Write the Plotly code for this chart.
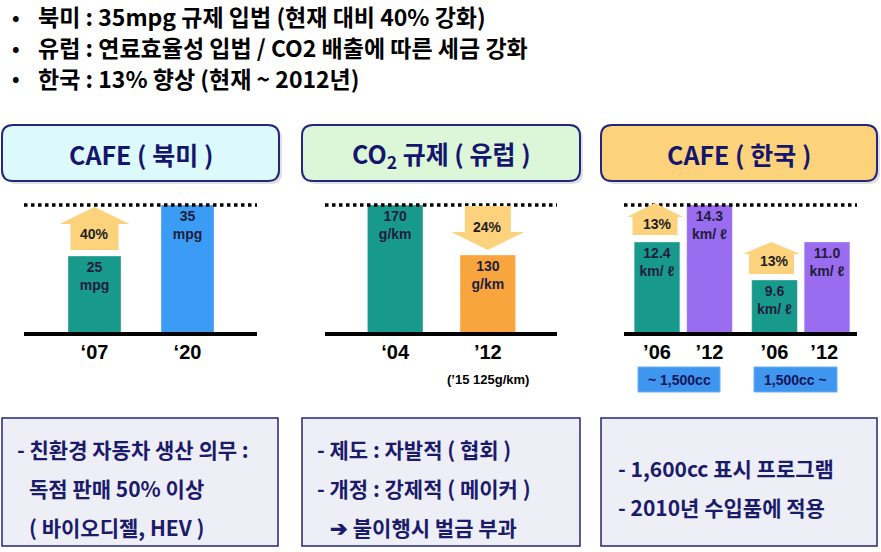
import plotly.graph_objects as go

W, H = 881, 552

def px(x):
    return x / W

def py(y):
    return 1 - y / H

# ---------------- data ----------------
bullets = [
    "북미 : 35mpg 규제 입법 (현재 대비 40% 강화)",
    "유럽 : 연료효율성 입법 / CO2 배출에 따른 세금 강화",
    "한국 : 13% 향상 (현재 ~ 2012년)",
]
panel_titles = ["CAFE ( 북미 )", "CO<sub>2</sub> 규제 ( 유럽 )", "CAFE ( 한국 )"]

na_years = ["‘07", "‘20"]
na_mpg = [25, 35]
na_unit = "mpg"

eu_years = ["‘04", "’12"]
eu_gkm = [170, 130]
eu_unit = "g/km"
eu_note = "(’15 125g/km)"

kr_small_years = ["’06", "’12"]
kr_small_kml = [12.4, 14.3]
kr_large_years = ["’06", "’12 "]
kr_large_kml = [9.6, 11.0]
kr_unit = "km/ ℓ"
kr_classes = ["~ 1,500cc", "1,500cc ~"]

change_labels = ["40%", "24%", "13%", "13%"]

notes = [
    ["- 친환경 자동차 생산 의무 :", "독점 판매 50% 이상", "( 바이오디젤, HEV )"],
    ["- 제도 : 자발적 ( 협회 )", "- 개정 : 강제적 ( 메이커 )", "➔ 불이행시 벌금 부과"],
    ["- 1,600cc 표시 프로그램", "- 2010년 수입품에 적용"],
]

# ---------------- styles ----------------
TEAL = "#17998c"
BLUE = "#3b9cf6"
ORANGE = "#f9a53e"
PURPLE = "#9a6cf0"
ARROW = "#fcd27c"
KFONT = "Noto Sans CJK KR"
AFONT = "Arial, Liberation Sans, sans-serif"

BASE_Y, TOP_Y = 333, 205
ydom = [py(BASE_Y), py(TOP_Y)]

na_dom, na_xr, na_yr = (24, 257), (-0.758, 1.747), (9.9, 35)
eu_dom, eu_xr, eu_yr = (325, 557), (-0.758, 1.747), (67.6, 170)
k1_dom, k1_xr, k1_yr = (624, 740.5), (-0.629, 1.59), (7.73, 14.3)
k2_dom, k2_xr, k2_yr = (740.5, 857), (-0.648, 1.571), (7.647, 12.36)


def xmap(dom, xr, v):
    return dom[0] + (v - xr[0]) / (xr[1] - xr[0]) * (dom[1] - dom[0])


def ymap(yr, v):
    return BASE_Y - (v - yr[0]) / (yr[1] - yr[0]) * (BASE_Y - TOP_Y)


fig = go.Figure()


def add_bars(xs, ys, colors, unit, fmt, xa, ya, width):
    fig.add_trace(go.Bar(
        x=xs, y=ys, xaxis=xa, yaxis=ya, width=width,
        marker=dict(color=colors, line=dict(color="rgba(255,255,255,0.35)", width=1)),
        text=[f"{fmt(v)}<br>{unit}" for v in ys],
        textposition="inside", insidetextanchor="end", textangle=0,
        constraintext="none",
        insidetextfont=dict(family=AFONT, size=14, color="#1e1e3c", weight="bold"),
        hoverinfo="skip", showlegend=False,
    ))


add_bars(na_years, na_mpg, [TEAL, BLUE], na_unit, lambda v: f"{v}", "x", "y", 0.57)
add_bars(eu_years, eu_gkm, [TEAL, ORANGE], eu_unit, lambda v: f"{v}", "x2", "y2", 0.6)
add_bars(kr_small_years, kr_small_kml, [TEAL, PURPLE], kr_unit, lambda v: f"{v:.1f}", "x3", "y3", 0.87)
add_bars(kr_large_years, kr_large_kml, [TEAL, PURPLE], kr_unit, lambda v: f"{v:.1f}", "x4", "y4", 0.87)

axis_common = dict(showgrid=False, zeroline=False, showline=False, fixedrange=True)
xtick = dict(tickfont=dict(family=AFONT, size=20, color="#000", weight="bold"),
             ticks="", ticklabelstandoff=5, type="category")
layout = dict(
    width=W, height=H, margin=dict(l=0, r=0, t=0, b=0),
    paper_bgcolor="white", plot_bgcolor="rgba(0,0,0,0)",
    bargap=0,
)
for i, (dom, xr, yr) in enumerate([(na_dom, na_xr, na_yr), (eu_dom, eu_xr, eu_yr),
                                    (k1_dom, k1_xr, k1_yr), (k2_dom, k2_xr, k2_yr)], start=1):
    sx = "" if i == 1 else str(i)
    layout["xaxis" + sx] = dict(domain=[px(dom[0]), px(dom[1])], range=list(xr),
                                anchor="y" + sx, **axis_common, **xtick)
    layout["yaxis" + sx] = dict(domain=ydom, range=list(yr), anchor="x" + sx,
                                showticklabels=False, **axis_common)
fig.update_layout(**layout)

shapes = []
annotations = []


def note(x, y, text, size, color, family=KFONT, xanchor="center"):
    annotations.append(dict(x=px(x), y=py(y), xref="paper", yref="paper", text=text,
                            showarrow=False, xanchor=xanchor, yanchor="middle",
                            font=dict(family=family, size=size, color=color, weight="bold")))


def rounded_rect(x0, y0, x1, y1, r, fill, line, lw):
    X0, X1 = px(x0), px(x1)
    Y0, Y1 = py(y0), py(y1)
    rx, ry = r / W, r / H
    path = (f"M{X0+rx},{Y0} L{X1-rx},{Y0} Q{X1},{Y0} {X1},{Y0-ry} "
            f"L{X1},{Y1+ry} Q{X1},{Y1} {X1-rx},{Y1} L{X0+rx},{Y1} "
            f"Q{X0},{Y1} {X0},{Y1+ry} L{X0},{Y0-ry} Q{X0},{Y0} {X0+rx},{Y0} Z")
    return dict(type="path", xref="paper", yref="paper", path=path,
                fillcolor=fill, line=dict(color=line, width=lw), layer="below")


def poly(points, fill):
    path = "M" + " L".join(f"{px(x)},{py(y)}" for x, y in points) + " Z"
    return dict(type="path", xref="paper", yref="paper", path=path,
                fillcolor=fill, line=dict(width=0), layer="above")


def up_arrow(cx, base, tip, head_len, head_half, shaft_half):
    st = tip + head_len
    return poly([(cx - shaft_half, base), (cx - shaft_half, st), (cx - head_half, st),
                 (cx, tip), (cx + head_half, st), (cx + shaft_half, st),
                 (cx + shaft_half, base)], ARROW)


def down_arrow(cx, top, tip, head_len, head_half, shaft_half):
    sb = tip - head_len
    return poly([(cx - shaft_half, top), (cx - shaft_half, sb), (cx - head_half, sb),
                 (cx, tip), (cx + head_half, sb), (cx + shaft_half, sb),
                 (cx + shaft_half, top)], ARROW)


# header boxes
header_boxes = [(2, 125, 279, 181, "#dcf9fc"), (302, 125, 580, 181, "#dcf7d8"),
                (601, 125, 877, 181, "#fcd37a")]
for (x0, y0, x1, y1, fill), title in zip(header_boxes, panel_titles):
    shapes.append(rounded_rect(x0 + 3, y0 + 3, x1 + 3, y1 + 3, 11, "rgba(0,0,0,0.12)",
                               "rgba(0,0,0,0)", 0))
    shapes.append(rounded_rect(x0, y0, x1, y1, 11, fill, "#26267e", 2))
    note((x0 + x1) / 2, (y0 + y1) / 2 + 1, title, 25, "#15156e")

# dotted target lines & baselines
for x0, x1 in [(24, 257), (325, 557), (624, 857)]:
    shapes.append(dict(type="line", xref="paper", yref="paper", x0=px(x0), x1=px(x1),
                       y0=py(TOP_Y), y1=py(TOP_Y),
                       line=dict(color="#000", width=3.5, dash="dot"), layer="above"))
    shapes.append(dict(type="line", xref="paper", yref="paper", x0=px(x0), x1=px(x1),
                       y0=py(BASE_Y + 1), y1=py(BASE_Y + 1),
                       line=dict(color="#000", width=4), layer="above"))

# change arrows
LBL = "#1e1e1e"
cx = xmap(na_dom, na_xr, 0)
shapes.append(up_arrow(cx, ymap(na_yr, na_mpg[0]) - 6, ymap(na_yr, na_mpg[1]) + 2, 17, 35, 24))
note(cx, 234, change_labels[0], 14, LBL, AFONT)

cx = xmap(eu_dom, eu_xr, 1)
shapes.append(down_arrow(cx, ymap(eu_yr, eu_gkm[0]) + 1, ymap(eu_yr, eu_gkm[1]) - 5, 18, 36.5, 23))
note(cx, 227, change_labels[1], 14, LBL, AFONT)

cx = xmap(k1_dom, k1_xr, 0) - 2
shapes.append(up_arrow(cx, ymap(k1_yr, kr_small_kml[0]) - 7, ymap(k1_yr, kr_small_kml[1]) - 2, 14, 28, 22.5))
note(cx + 2, 224, change_labels[2], 14, LBL, AFONT)

cx = xmap(k2_dom, k2_xr, 0) - 3
shapes.append(up_arrow(cx, ymap(k2_yr, kr_large_kml[0]) - 6, ymap(k2_yr, kr_large_kml[1]), 12, 28.5, 22.5))
note(cx + 3, 261, change_labels[3], 14, LBL, AFONT)

# EU note
note(xmap(eu_dom, eu_xr, 1), 379, eu_note, 13, "#000", AFONT)

# Korea class tags
for (x0, x1), label in zip([(638, 720), (754, 837)], kr_classes):
    shapes.append(dict(type="rect", xref="paper", yref="paper", x0=px(x0), x1=px(x1),
                       y0=py(392), y1=py(367), fillcolor="#3f96ef",
                       line=dict(color="#6aaef2", width=1), layer="below"))
    note((x0 + x1) / 2, 380, label, 14, "#15155a", AFONT)

# top bullets
for i, b in enumerate(bullets):
    yy = 16 + i * 31
    note(10, yy, "•", 20, "#000", KFONT, "left")
    note(36, yy, b, 23, "#000", KFONT, "left")

# bottom boxes
bottom_boxes = [(2, 418, 278, 546), (302, 418, 580, 546), (601, 418, 877, 546)]
line_sets = [[449, 488, 527], [449, 488, 527], [468, 507]]
text_x = [[15, 27, 27], [315, 315, 328], [616, 616]]
for (x0, y0, x1, y1), lines, ys, xs in zip(bottom_boxes, notes, line_sets, text_x):
    shapes.append(dict(type="rect", xref="paper", yref="paper", x0=px(x0), x1=px(x1),
                       y0=py(y1), y1=py(y0), fillcolor="#eeeef6",
                       line=dict(color="#26267a", width=1.5), layer="below"))
    for t, yy, xx in zip(lines, ys, xs):
        note(xx, yy, t, 21, "#1b1b6b", KFONT, "left")

fig.update_layout(shapes=shapes, annotations=annotations)
fig.write_html("out.html", config={"displayModeBar": False, "staticPlot": True})
